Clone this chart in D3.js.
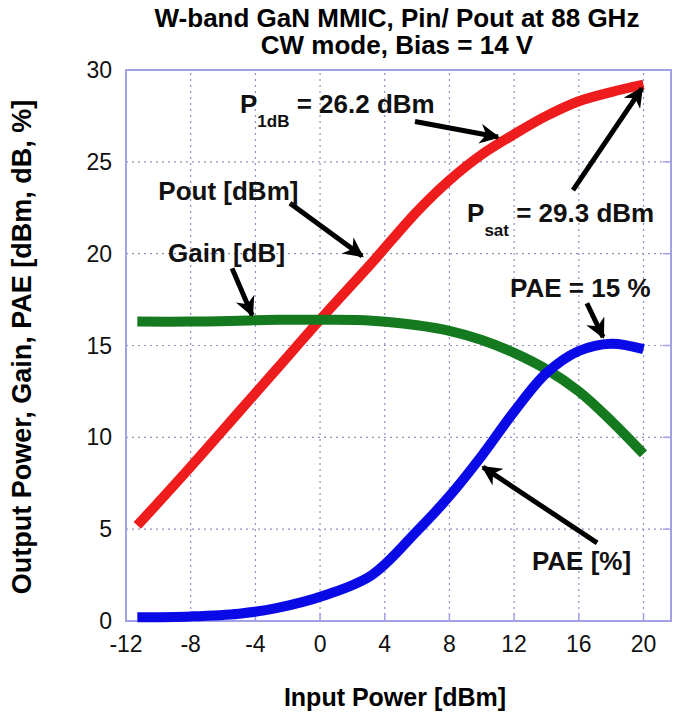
<!DOCTYPE html>
<html>
<head>
<meta charset="utf-8">
<script src="https://cdn.jsdelivr.net/npm/d3@7"></script>
<style>
  body { margin: 0; background: #fff; }
  svg { display: block; font-family: "Liberation Sans", Arial, sans-serif; }
</style>
</head>
<body>
<svg width="676" height="718"></svg>
<script>
// values
const pinDbm = [-11.3, -8, -5, -2.7, 0.3, 3.2, 6, 8, 10, 12, 14, 16, 18, 20];
const poutDbm = [5.2, 8.4, 11.4, 13.7, 16.7, 19.5, 22.3, 24.0, 25.4, 26.5, 27.5, 28.3, 28.8, 29.2];
const gainDb = [16.3, 16.3, 16.35, 16.4, 16.4, 16.35, 16.1, 15.8, 15.3, 14.6, 13.7, 12.5, 10.9, 9.1];
const paePct = [0.2, 0.25, 0.4, 0.7, 1.4, 2.5, 4.9, 6.8, 9.0, 11.4, 13.5, 14.7, 15.1, 14.8];

const xTicks = [-12, -8, -4, 0, 4, 8, 12, 16, 20];
const yTicks = [0, 5, 10, 15, 20, 25, 30];

var svg = d3.select("svg");

var x = d3.scaleLinear().domain([-12, 21.7]).range([126, 671]);
var y = d3.scaleLinear().domain([0, 30]).range([621, 70]);

var frameColor = "#a3a1e6";
var gridColor = "#8f92bf";

// grid
svg.append("g").selectAll("line")
    .data(xTicks.slice(1))
    .enter().append("line")
    .attr("x1", d => x(d)).attr("x2", d => x(d))
    .attr("y1", y(0)).attr("y2", y(30))
    .attr("stroke", gridColor).attr("stroke-width", 1.2)
    .attr("stroke-dasharray", "2,4");
svg.append("g").selectAll("line")
    .data(yTicks.slice(1, -1))
    .enter().append("line")
    .attr("x1", x(-12)).attr("x2", x(21.7))
    .attr("y1", d => y(d)).attr("y2", d => y(d))
    .attr("stroke", gridColor).attr("stroke-width", 1.2)
    .attr("stroke-dasharray", "2,4");

// small solid ticks on bottom / right
svg.append("g").selectAll("line")
    .data(xTicks)
    .enter().append("line")
    .attr("x1", d => x(d)).attr("x2", d => x(d))
    .attr("y1", y(0)).attr("y2", y(0) - 8)
    .attr("stroke", frameColor).attr("stroke-width", 1.5);
svg.append("g").selectAll("line")
    .data(yTicks)
    .enter().append("line")
    .attr("x1", x(21.7)).attr("x2", x(21.7) - 8)
    .attr("y1", d => y(d)).attr("y2", d => y(d))
    .attr("stroke", frameColor).attr("stroke-width", 1.5);

// frame
svg.append("rect")
    .attr("x", x(-12)).attr("y", y(30))
    .attr("width", x(21.7) - x(-12)).attr("height", y(0) - y(30))
    .attr("fill", "none").attr("stroke", frameColor).attr("stroke-width", 2);

// tick labels
svg.append("g").selectAll("text")
    .data(xTicks)
    .enter().append("text")
    .attr("x", d => x(d)).attr("y", 652)
    .attr("text-anchor", "middle")
    .attr("font-size", 23)
    .attr("fill", "#111")
    .text(d => d);
svg.append("g").selectAll("text")
    .data(yTicks)
    .enter().append("text")
    .attr("x", 112).attr("y", d => y(d) + 8)
    .attr("text-anchor", "end")
    .attr("font-size", 23)
    .attr("fill", "#111")
    .text(d => d);

// curves
var series = [
    { vals: poutDbm, color: "#ee1c1c" },
    { vals: gainDb, color: "#157a1f" },
    { vals: paePct, color: "#0a0ae6" }
];
var line = d3.line().curve(d3.curveCatmullRom.alpha(0.5));
series.forEach(function(s) {
    svg.append("path")
        .datum(pinDbm.map((p, i) => [x(p), y(s.vals[i])]))
        .attr("d", line)
        .attr("fill", "none")
        .attr("stroke", s.color)
        .attr("stroke-width", 10);
});

// titles
svg.append("text").attr("x", 397).attr("y", 27)
    .attr("text-anchor", "middle").attr("font-size", 26).attr("font-weight", "bold")
    .text("W-band GaN MMIC, Pin/ Pout at 88 GHz");
svg.append("text").attr("x", 397).attr("y", 54)
    .attr("text-anchor", "middle").attr("font-size", 26).attr("font-weight", "bold")
    .text("CW mode, Bias = 14 V");
svg.append("text").attr("x", 395).attr("y", 706)
    .attr("text-anchor", "middle").attr("font-size", 25).attr("font-weight", "bold")
    .text("Input Power [dBm]");
svg.append("text")
    .attr("transform", "translate(31,347) rotate(-90)")
    .attr("text-anchor", "middle").attr("font-size", 27).attr("font-weight", "bold")
    .text("Output Power, Gain, PAE [dBm, dB, %]");

// annotations (data coordinates)
svg.append("defs").append("marker")
    .attr("id", "head")
    .attr("viewBox", "0 0 10 10")
    .attr("refX", 9).attr("refY", 5)
    .attr("markerWidth", 4.6).attr("markerHeight", 4)
    .attr("orient", "auto")
    .append("path").attr("d", "M0,0 L10,5 L0,10 L3,5 Z").attr("fill", "#000");

var arrows = [
    [5.87, 27.2, 11.0, 26.35],
    [-1.86, 22.75, 2.6, 19.87],
    [-5.44, 19.2, -4.2, 16.65],
    [15.64, 23.46, 19.9, 29.0],
    [16.5, 17.3, 17.5, 15.46],
    [17.13, 4.25, 10.08, 8.38]
];
svg.append("g").selectAll("line")
    .data(arrows)
    .enter().append("line")
    .attr("x1", d => x(d[0])).attr("y1", d => y(d[1]))
    .attr("x2", d => x(d[2])).attr("y2", d => y(d[3]))
    .attr("stroke", "#000").attr("stroke-width", 5)
    .attr("marker-end", "url(#head)");

function label(px, py, main, sub, rest) {
    var t = svg.append("text")
        .attr("x", x(px)).attr("y", y(py))
        .attr("font-size", 26).attr("font-weight", "bold").attr("fill", "#111");
    t.append("tspan").text(main);
    if (sub) {
        t.append("tspan").attr("dy", 14).attr("font-size", 17).text(sub);
        t.append("tspan").attr("dy", -14).text(rest);
    }
}
label(-4.95, 27.65, "P", "1dB", " = 26.2 dBm");
label(-10.0, 22.9, "Pout [dBm]");
label(-9.4, 19.54, "Gain [dB]");
label(9.09, 21.7, "P", "sat", " = 29.3 dBm");
label(11.75, 17.64, "PAE = 15 %");
label(13.1, 2.78, "PAE [%]");
</script>
</body>
</html>
